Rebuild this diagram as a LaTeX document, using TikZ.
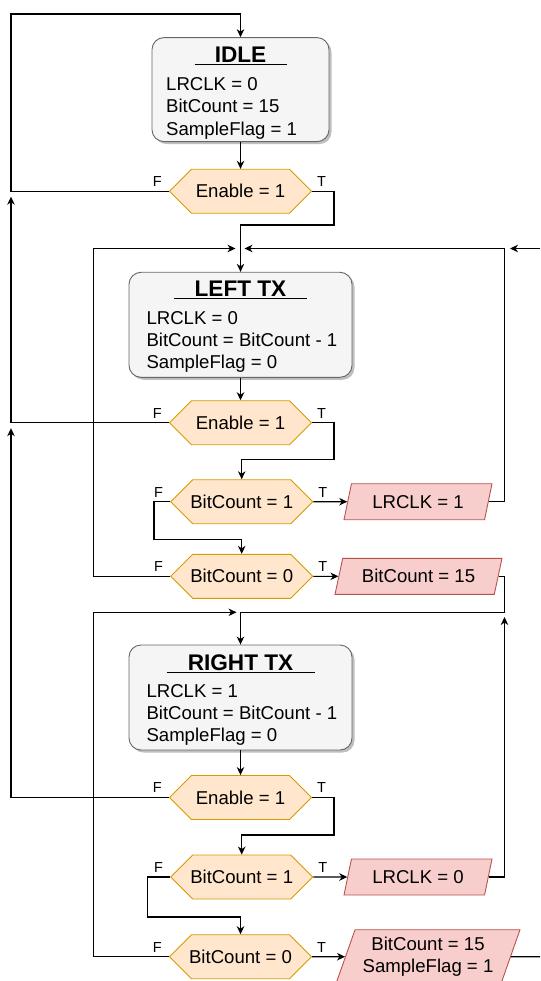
\documentclass[tikz,border=0pt]{standalone}
\usepackage{fontspec}
\setmainfont{Liberation Sans}
\usetikzlibrary{arrows.meta,shapes.geometric,shapes.symbols,shadows,calc}
\definecolor{hexfill}{HTML}{FFE6CC}
\definecolor{hexdraw}{HTML}{D79B00}
\definecolor{parfill}{HTML}{F8CECC}
\definecolor{pardraw}{HTML}{B85450}
\definecolor{boxfill}{HTML}{F5F5F5}
\definecolor{boxdraw}{HTML}{666666}
\newcommand{\hx}[1]{\makebox[90pt]{#1}}
\newcommand{\rows}[1]{\begin{tabular}[t]{@{}l@{}}#1\end{tabular}}
\begin{document}
\begin{tikzpicture}[x=1pt,y=-1pt,
  statebox/.style={draw=boxdraw, fill=boxfill, rounded corners=12pt, line width=0.9pt,
    drop shadow={shadow xshift=2.5pt, shadow yshift=-2.5pt, opacity=0.25, fill=black}, inner sep=0pt},
  titletext/.style={font=\fontsize{22.6}{26}\selectfont\bfseries, inner sep=0pt, anchor=base},
  bodytext/.style={font=\fontsize{18.6}{22.3}\selectfont, inner sep=0pt, anchor=base west},
  decision/.style={signal, signal to=west and east, signal pointer angle=90,
    draw=hexdraw, fill=hexfill, line width=0.9pt, minimum width=142pt, minimum height=44pt,
    inner sep=0pt, font=\fontsize{18.6}{22.3}\selectfont},
  iobox/.style={trapezium, trapezium left angle=60.5, trapezium right angle=119.5,
    trapezium stretches body, draw=pardraw, fill=parfill, line width=0.9pt,
    minimum height=36pt, inner sep=0pt, font=\fontsize{18.6}{22.3}\selectfont},
  lbl/.style={font=\fontsize{14.5}{16}\selectfont, inner sep=0pt},
  arr/.style={-{Stealth[length=8pt,width=7.5pt,inset=2.5pt]}, line width=1.1pt},
  conn/.style={line width=1.1pt}
]
\useasboundingbox (0,0) rectangle (540,981);
\clip (0,0) rectangle (540,981);

% states
\node[statebox, minimum width=177pt, minimum height=104pt] (idle) at (240.5,89.6) {};
\node[titletext] (idleT) at (240.5,63) {\underline{\makebox[92pt]{IDLE}}};
\node[bodytext] (idleB) at (166,90.5) {\rows{LRCLK = 0\\BitCount = 15\\SampleFlag = 1}};

\node[statebox, minimum width=223pt, minimum height=105pt] (lefttx) at (240.5,324.8) {};
\node[titletext] (leftT) at (240.5,296.5) {\underline{\makebox[133pt]{LEFT TX}}};
\node[bodytext] (leftB) at (146.3,324.3) {\rows{LRCLK = 0\\BitCount = BitCount - 1\\SampleFlag = 0}};

\node[statebox, minimum width=223pt, minimum height=105pt] (righttx) at (240.5,697.5) {};
\node[titletext] (rightT) at (240.5,670.5) {\underline{\makebox[148pt]{RIGHT TX}}};
\node[bodytext] (rightB) at (146.3,697) {\rows{LRCLK = 1\\BitCount = BitCount - 1\\SampleFlag = 0}};

% decisions
\node[decision] (e1) at (240.5,191.3) {\hx{Enable = 1}};
\node[decision] (e2) at (240.5,422.7) {\hx{Enable = 1}};
\node[decision] (b1l) at (241.7,501.7) {\hx{BitCount = 1}};
\node[decision] (b0l) at (241.7,576.3) {\hx{BitCount = 0}};
\node[decision] (e3) at (240.5,797.5) {\hx{Enable = 1}};
\node[decision] (b1r) at (241.7,877) {\hx{BitCount = 1}};
\node[decision] (b0r) at (240.5,956.7) {\hx{BitCount = 0}};

% outputs
\node[iobox, minimum width=148pt] (lr1) at (418,501.7) {LRCLK = 1};
\node[iobox, minimum width=167pt] (bc15) at (418.5,576.3) {BitCount = 15};
\node[iobox, minimum width=148pt] (lr0) at (418,877) {LRCLK = 0};
\node[iobox, minimum width=184pt, minimum height=54pt, trapezium left angle=66.9,
  trapezium right angle=113.1] (bcs) at (428,956.7)
  {\begin{tabular}{@{}c@{}}BitCount = 15\\SampleFlag = 1\end{tabular}};

% free ends
\coordinate (j1) at (11,196.7);
\coordinate (j2) at (11,428.2);
\coordinate (j3) at (244.5,248.5);
\coordinate (j4) at (235.5,248.5);
\coordinate (j5) at (504.5,617);
\coordinate (j6) at (236.5,612.3);
\coordinate (j7) at (510,248.5);
\coordinate (outA) at (540,956.7);
\coordinate (outB) at (540,248.5);

% connectors
\draw[arr] (idle.south) -- (e1.north);
\draw[arr] (e1.west) -| (11,14) -| (idle.north);
\draw[arr] (e1.east) -| (334,225) -| (lefttx.north);
\draw[arr] (lefttx.south) -- (e2.north);
\draw[arr] (e2.west) -| (j1);
\draw[arr] (e2.east) -| (334,459.5) -| (b1l.north);
\draw[arr] (b1l.west) -| (154,539.3) -| (b0l.north);
\draw[arr] (b1l.east) -- (lr1.west);
\draw[arr] (lr1.east) -| (504.5,248.5) -- (j3);
\draw[arr] (b0l.east) -- (bc15.west);
\draw[arr] (b0l.west) -| (93.5,248.5) -- (j4);
\draw[arr] (bc15.east) -| (504.5,612.3) -| (righttx.north);
\draw[arr] (righttx.south) -- (e3.north);
\draw[arr] (e3.west) -| (j2);
\draw[arr] (e3.east) -| (334,835) -| (b1r.north);
\draw[arr] (b1r.west) -| (147.4,917) -| (b0r.north);
\draw[arr] (b1r.east) -- (lr0.west);
\draw[arr] (lr0.east) -| (j5);
\draw[arr] (b0r.west) -| (93.5,612.3) -- (j6);
\draw[arr] (b0r.east) -- (bcs.west);
\draw[conn] (bcs.east) -- (outA);
\draw[arr] (outB) -- (j7);

% branch labels
\foreach \n in {e1,e2,b1l,b0l,e3,b1r,b0r}{
  \node[lbl] (F\n) at ($(\n.west)+(-11.5,-9.5)$) {F};
  \node[lbl] (T\n) at ($(\n.east)+(9.5,-9.5)$) {T};
}
\end{tikzpicture}
\end{document}
